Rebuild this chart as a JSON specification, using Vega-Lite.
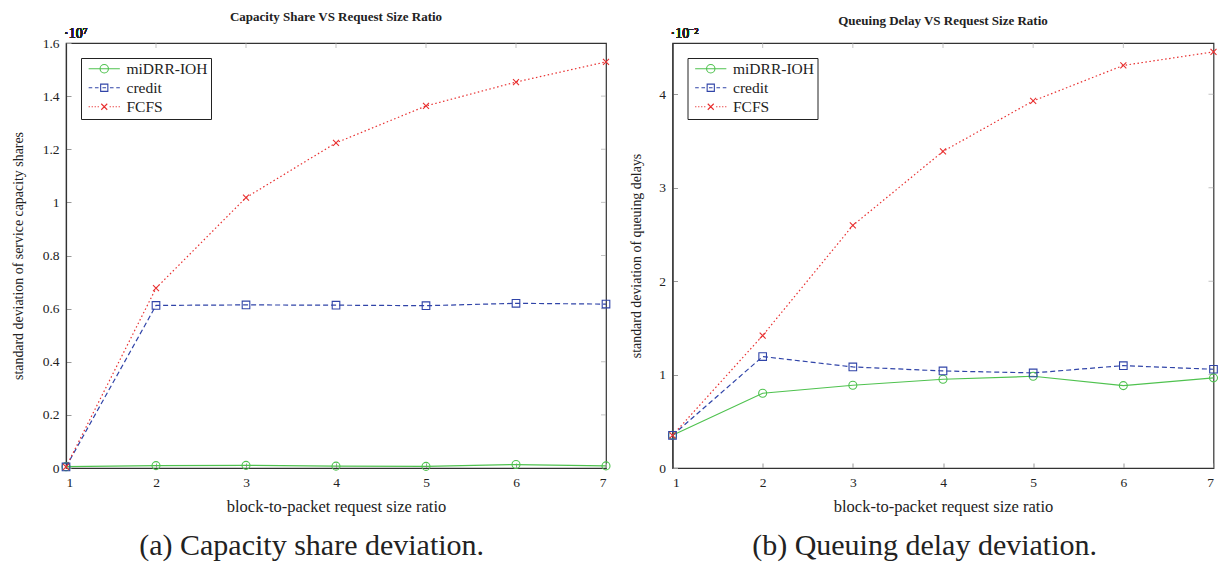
{
  "$schema": "https://vega.github.io/schema/vega-lite/v6.json",
  "padding": {"top": 10, "left": 10, "right": 6, "bottom": 0},
  "background": "white",
  "config": {
    "font": "Liberation Serif",
    "view": {"stroke": "#333", "strokeWidth": 1.2},
    "axis": {"grid": false, "tickSize": -5, "tickColor": "#999", "domainColor": "#333", "domainWidth": 1.2, "labelFont": "Liberation Serif", "labelFontSize": 13.5, "labelColor": "#222", "titleFont": "Liberation Serif", "titleFontSize": 13.9, "titleFontWeight": "normal", "titleColor": "#222", "labelPadding": 12},
    "axisX": {"titleFontSize": 16.5},
    "title": {"font": "Liberation Serif", "color": "#222"},
    "legend": {"orient": "top-left", "offset": 15, "padding": 3, "strokeColor": "#222", "fillColor": "white", "symbolOffset": 12.5, "labelOffset": 14.5, "rowPadding": 2, "labelFontSize": 15.5, "labelFont": "Liberation Serif", "labelColor": "#222", "symbolStrokeWidth": 1.1, "symbolSize": 144, "cornerRadius": 0}
  },
  "datasets": {
    "capacity": [
      {"ratio": 1, "scheme": "miDRR-IOH", "value": 50000},
      {"ratio": 2, "scheme": "miDRR-IOH", "value": 90000},
      {"ratio": 3, "scheme": "miDRR-IOH", "value": 100000},
      {"ratio": 4, "scheme": "miDRR-IOH", "value": 70000},
      {"ratio": 5, "scheme": "miDRR-IOH", "value": 60000},
      {"ratio": 6, "scheme": "miDRR-IOH", "value": 130000},
      {"ratio": 7, "scheme": "miDRR-IOH", "value": 80000},
      {"ratio": 1, "scheme": "credit", "value": 40000},
      {"ratio": 2, "scheme": "credit", "value": 6120000},
      {"ratio": 3, "scheme": "credit", "value": 6140000},
      {"ratio": 4, "scheme": "credit", "value": 6130000},
      {"ratio": 5, "scheme": "credit", "value": 6110000},
      {"ratio": 6, "scheme": "credit", "value": 6200000},
      {"ratio": 7, "scheme": "credit", "value": 6170000},
      {"ratio": 1, "scheme": "FCFS", "value": 40000},
      {"ratio": 2, "scheme": "FCFS", "value": 6770000},
      {"ratio": 3, "scheme": "FCFS", "value": 10180000},
      {"ratio": 4, "scheme": "FCFS", "value": 12240000},
      {"ratio": 5, "scheme": "FCFS", "value": 13630000},
      {"ratio": 6, "scheme": "FCFS", "value": 14530000},
      {"ratio": 7, "scheme": "FCFS", "value": 15290000}
    ],
    "delay": [
      {"ratio": 1, "scheme": "miDRR-IOH", "value": 0.0035},
      {"ratio": 2, "scheme": "miDRR-IOH", "value": 0.0080},
      {"ratio": 3, "scheme": "miDRR-IOH", "value": 0.00886},
      {"ratio": 4, "scheme": "miDRR-IOH", "value": 0.0095},
      {"ratio": 5, "scheme": "miDRR-IOH", "value": 0.00982},
      {"ratio": 6, "scheme": "miDRR-IOH", "value": 0.00882},
      {"ratio": 7, "scheme": "miDRR-IOH", "value": 0.00965},
      {"ratio": 1, "scheme": "credit", "value": 0.0035},
      {"ratio": 2, "scheme": "credit", "value": 0.01193},
      {"ratio": 3, "scheme": "credit", "value": 0.01082},
      {"ratio": 4, "scheme": "credit", "value": 0.01039},
      {"ratio": 5, "scheme": "credit", "value": 0.01018},
      {"ratio": 6, "scheme": "credit", "value": 0.01096},
      {"ratio": 7, "scheme": "credit", "value": 0.01057},
      {"ratio": 1, "scheme": "FCFS", "value": 0.0035},
      {"ratio": 2, "scheme": "FCFS", "value": 0.01418},
      {"ratio": 3, "scheme": "FCFS", "value": 0.02597},
      {"ratio": 4, "scheme": "FCFS", "value": 0.0339},
      {"ratio": 5, "scheme": "FCFS", "value": 0.0393},
      {"ratio": 6, "scheme": "FCFS", "value": 0.0431},
      {"ratio": 7, "scheme": "FCFS", "value": 0.04455}
    ]
  },
  "resolve": {"scale": {"color": "independent", "shape": "independent"}, "legend": {"color": "independent", "shape": "independent"}},
  "spacing": 15.5,
  "hconcat": [
    {
      "title": {"text": "(a) Capacity share deviation.", "orient": "bottom", "fontSize": 30, "fontWeight": "normal", "offset": 16, "anchor": "middle", "frame": "bounds"},
      "vconcat": [
        {
          "width": 540,
          "height": 425,
          "title": {"text": "Capacity Share VS Request Size Ratio", "fontSize": 13, "fontWeight": "bold", "offset": 3},
          "data": {"name": "capacity"},
          "encoding": {
            "x": {"field": "ratio", "type": "quantitative", "scale": {"domain": [1, 7], "nice": false}, "axis": {"values": [1, 2, 3, 4, 5, 6, 7], "title": "block-to-packet request size ratio", "titlePadding": 9.5}},
            "y": {"field": "value", "type": "quantitative", "scale": {"domain": [0, 16000000], "nice": false}, "axis": {"values": [0, 2000000, 4000000, 6000000, 8000000, 10000000, 12000000, 14000000, 16000000], "labelExpr": "format(datum.value / 10000000, '~g')", "title": "standard deviation of service capacity shares", "titlePadding": 17}}
          },
          "layer": [
            {
              "data": {"values": [{"ratio": 7, "value": 2000000}, {"ratio": 7, "value": 4000000}, {"ratio": 7, "value": 6000000}, {"ratio": 7, "value": 8000000}, {"ratio": 7, "value": 10000000}, {"ratio": 7, "value": 12000000}, {"ratio": 7, "value": 14000000}]},
              "mark": {"type": "tick", "orient": "horizontal", "size": 10, "thickness": 1, "clip": true, "color": "#aaa"},
              "encoding": {}
            },
            {
              "data": {"values": [{"ratio": 2, "value": 16000000}, {"ratio": 3, "value": 16000000}, {"ratio": 4, "value": 16000000}, {"ratio": 5, "value": 16000000}, {"ratio": 6, "value": 16000000}]},
              "mark": {"type": "tick", "orient": "vertical", "size": 10, "thickness": 1, "clip": true, "color": "#aaa"},
              "encoding": {}
            },
            {
              "transform": [{"filter": "datum.scheme === 'miDRR-IOH'"}],
              "mark": {"type": "line", "strokeWidth": 1.2, "color": "#4fc24f"},
              "encoding": {}
            },
            {
              "transform": [{"filter": "datum.scheme === 'credit'"}],
              "mark": {"type": "line", "strokeWidth": 1.2, "color": "#3044a8", "strokeDash": [5, 3]},
              "encoding": {}
            },
            {
              "transform": [{"filter": "datum.scheme === 'FCFS'"}],
              "mark": {"type": "line", "strokeWidth": 1.2, "color": "#e83030", "strokeDash": [1.5, 2.5]},
              "encoding": {}
            },
            {
              "transform": [{"filter": "datum.scheme === 'miDRR-IOH'"}],
              "mark": {"type": "point", "shape": "M1,0A1,1 0 1,1 -1,0A1,1 0 1,1 1,0", "filled": false, "strokeWidth": 1.1, "size": 64, "opacity": 1, "color": "#4fc24f"},
              "encoding": {}
            },
            {
              "transform": [{"filter": "datum.scheme === 'credit'"}],
              "mark": {"type": "point", "shape": "M-0.95,-0.95H0.95V0.95H-0.95Z", "filled": false, "strokeWidth": 1.1, "size": 64, "opacity": 1, "color": "#3044a8"},
              "encoding": {}
            },
            {
              "transform": [{"filter": "datum.scheme === 'FCFS'"}],
              "mark": {"type": "point", "shape": "M-0.75,-0.75L0.75,0.75M-0.75,0.75L0.75,-0.75", "filled": false, "strokeWidth": 1.1, "size": 64, "opacity": 1, "color": "#e83030"},
              "encoding": {}
            },
            {
              "transform": [{"filter": "datum.ratio > 100"}],
              "mark": {"type": "point", "filled": false, "strokeWidth": 1.1, "size": 144, "opacity": 1},
              "encoding": {
                "color": {"field": "scheme", "type": "nominal", "scale": {"domain": ["miDRR-IOH", "credit", "FCFS"], "range": ["#4fc24f", "#3044a8", "#e83030"]}, "legend": {"title": null, "labelFontSize": 15.5}},
                "shape": {"field": "scheme", "type": "nominal", "scale": {"domain": ["miDRR-IOH", "credit", "FCFS"], "range": ["M-2.6,0H2.6M0.7,0A0.7,0.7 0 1,1 -0.7,0A0.7,0.7 0 1,1 0.7,0", "M-2.6,0H-2.0M-1.55,0H-0.95M-0.6,-0.6H0.6V0.6H-0.6ZM-0.3,0H0.3M0.95,0H1.55M2.0,0H2.6", "M-2.6,0h0.2M-2.1,0h0.2M-1.6,0h0.2M-1.1,0h0.2M0.9,0h0.2M1.4,0h0.2M1.9,0h0.2M2.4,0h0.2M-0.5,-0.5L0.5,0.5M-0.5,0.5L0.5,-0.5"]}, "legend": {"title": null, "labelFontSize": 15.5}}
              }
            },
            {
              "mark": {"type": "text", "align": "left", "baseline": "bottom", "dx": -2, "dy": -2, "fontSize": 14, "color": "#222"},
              "encoding": {"x": {"datum": 1}, "y": {"datum": 16000000}, "text": {"value": "·10⁷"}}
            }
          ]
        }
      ]
    },
    {
      "title": {"text": "(b) Queuing delay deviation.", "orient": "bottom", "fontSize": 30, "fontWeight": "normal", "offset": 16, "anchor": "middle", "frame": "bounds"},
      "vconcat": [
        {
          "width": 541,
          "height": 425,
          "title": {"text": "Queuing Delay VS Request Size Ratio", "fontSize": 13, "fontWeight": "bold", "offset": -1},
          "data": {"name": "delay"},
          "encoding": {
            "x": {"field": "ratio", "type": "quantitative", "scale": {"domain": [1, 7], "nice": false}, "axis": {"values": [1, 2, 3, 4, 5, 6, 7], "title": "block-to-packet request size ratio", "titlePadding": 9.5}},
            "y": {"field": "value", "type": "quantitative", "scale": {"domain": [0, 0.0455], "nice": false}, "axis": {"values": [0, 0.01, 0.02, 0.03, 0.04], "labelExpr": "format(datum.value * 100, '~g')", "title": "standard deviation of queuing delays", "titlePadding": 15.25}}
          },
          "layer": [
            {
              "data": {"values": [{"ratio": 7, "value": 0.01}, {"ratio": 7, "value": 0.02}, {"ratio": 7, "value": 0.03}, {"ratio": 7, "value": 0.04}]},
              "mark": {"type": "tick", "orient": "horizontal", "size": 10, "thickness": 1, "clip": true, "color": "#aaa"},
              "encoding": {}
            },
            {
              "data": {"values": [{"ratio": 2, "value": 0.0455}, {"ratio": 3, "value": 0.0455}, {"ratio": 4, "value": 0.0455}, {"ratio": 5, "value": 0.0455}, {"ratio": 6, "value": 0.0455}]},
              "mark": {"type": "tick", "orient": "vertical", "size": 10, "thickness": 1, "clip": true, "color": "#aaa"},
              "encoding": {}
            },
            {
              "transform": [{"filter": "datum.scheme === 'miDRR-IOH'"}],
              "mark": {"type": "line", "strokeWidth": 1.2, "color": "#4fc24f"},
              "encoding": {}
            },
            {
              "transform": [{"filter": "datum.scheme === 'credit'"}],
              "mark": {"type": "line", "strokeWidth": 1.2, "color": "#3044a8", "strokeDash": [5, 3]},
              "encoding": {}
            },
            {
              "transform": [{"filter": "datum.scheme === 'FCFS'"}],
              "mark": {"type": "line", "strokeWidth": 1.2, "color": "#e83030", "strokeDash": [1.5, 2.5]},
              "encoding": {}
            },
            {
              "transform": [{"filter": "datum.scheme === 'miDRR-IOH'"}],
              "mark": {"type": "point", "shape": "M1,0A1,1 0 1,1 -1,0A1,1 0 1,1 1,0", "filled": false, "strokeWidth": 1.1, "size": 64, "opacity": 1, "color": "#4fc24f"},
              "encoding": {}
            },
            {
              "transform": [{"filter": "datum.scheme === 'credit'"}],
              "mark": {"type": "point", "shape": "M-0.95,-0.95H0.95V0.95H-0.95Z", "filled": false, "strokeWidth": 1.1, "size": 64, "opacity": 1, "color": "#3044a8"},
              "encoding": {}
            },
            {
              "transform": [{"filter": "datum.scheme === 'FCFS'"}],
              "mark": {"type": "point", "shape": "M-0.75,-0.75L0.75,0.75M-0.75,0.75L0.75,-0.75", "filled": false, "strokeWidth": 1.1, "size": 64, "opacity": 1, "color": "#e83030"},
              "encoding": {}
            },
            {
              "transform": [{"filter": "datum.ratio > 100"}],
              "mark": {"type": "point", "filled": false, "strokeWidth": 1.1, "size": 144, "opacity": 1},
              "encoding": {
                "color": {"field": "scheme", "type": "nominal", "scale": {"domain": ["miDRR-IOH", "credit", "FCFS"], "range": ["#4fc24f", "#3044a8", "#e83030"]}, "legend": {"title": null, "labelFontSize": 15.5}},
                "shape": {"field": "scheme", "type": "nominal", "scale": {"domain": ["miDRR-IOH", "credit", "FCFS"], "range": ["M-2.6,0H2.6M0.7,0A0.7,0.7 0 1,1 -0.7,0A0.7,0.7 0 1,1 0.7,0", "M-2.6,0H-2.0M-1.55,0H-0.95M-0.6,-0.6H0.6V0.6H-0.6ZM-0.3,0H0.3M0.95,0H1.55M2.0,0H2.6", "M-2.6,0h0.2M-2.1,0h0.2M-1.6,0h0.2M-1.1,0h0.2M0.9,0h0.2M1.4,0h0.2M1.9,0h0.2M2.4,0h0.2M-0.5,-0.5L0.5,0.5M-0.5,0.5L0.5,-0.5"]}, "legend": {"title": null, "labelFontSize": 15.5}}
              }
            },
            {
              "mark": {"type": "text", "align": "left", "baseline": "bottom", "dx": -2, "dy": -2, "fontSize": 14, "color": "#222"},
              "encoding": {"x": {"datum": 1}, "y": {"datum": 0.0455}, "text": {"value": "·10⁻²"}}
            }
          ]
        }
      ]
    }
  ]
}
